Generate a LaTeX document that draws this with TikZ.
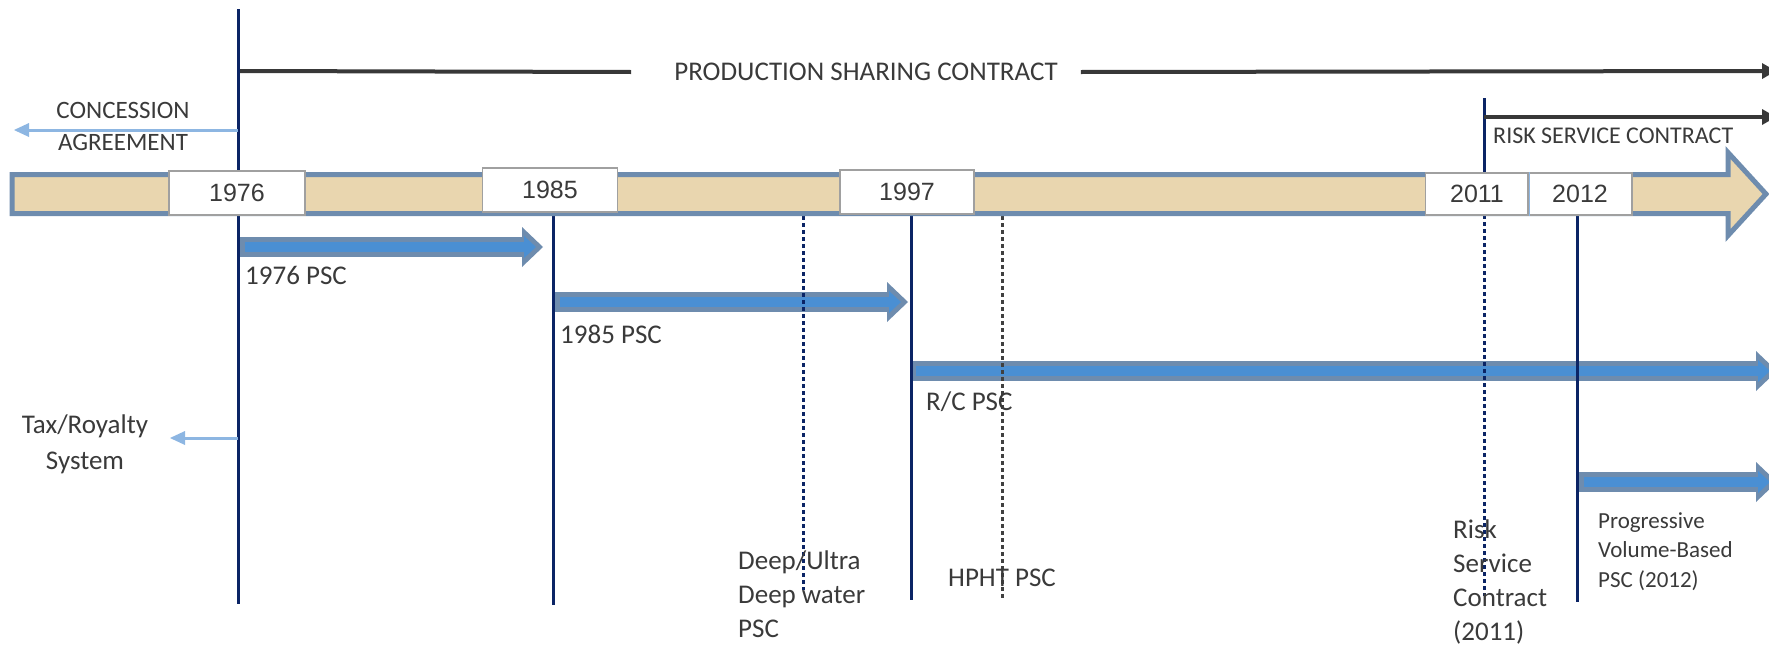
\documentclass[tikz,border=0pt]{standalone}
\usepackage{fontspec}
\setmainfont{Carlito}
\newfontfamily\yearfont{Liberation Sans}
\usepackage{tikz}
\usetikzlibrary{arrows.meta}
\definecolor{barfill}{HTML}{E9D6AF}
\definecolor{barline}{HTML}{6E8CAE}
\definecolor{pscblue}{HTML}{4A8FD3}
\definecolor{navyline}{HTML}{0B2465}
\definecolor{lightarrow}{HTML}{8DB6E2}
\definecolor{txtgray}{HTML}{3A3A3A}
\definecolor{boxgray}{HTML}{A0A0A0}

\begin{document}
\begin{tikzpicture}[x=1pt,y=-1pt,
		year_box/.style={rectangle,draw=boxgray,line width=1.2pt,fill=white,minimum height=44pt,inner sep=0pt,font=\yearfont\fontsize{25}{30}\selectfont,text=txtgray},
		label_text/.style={inner sep=0pt,align=left,text=txtgray,font=\fontsize{27}{34}\selectfont},
		era_line/.style={draw=black!78,line width=4pt},
		era_arrow/.style={era_line,-{Triangle[length=14pt,width=16pt,line width=0pt]}},
		back_arrow/.style={draw=lightarrow,line width=3pt,-{Triangle[length=15pt,width=14pt,line width=0pt]}},
		year_line/.style={draw=navyline,line width=3pt},
		dot_line/.style={draw=navyline,line width=3pt,dash pattern=on 4pt off 3pt},
		psc_outer/.style={draw=barline,line width=20pt,-{Triangle[length=21pt,width=40pt,line width=0pt]}},
		psc_inner/.style={draw=pscblue,line width=10pt,-{Triangle[length=12pt,width=22pt,line width=0pt]}}]

		\useasboundingbox (0,0) rectangle (1769,648);

		% contract arrows
		\coordinate (a76s) at (240,247);
		\coordinate (a76e) at (543,247);
		\coordinate (a85s) at (555,302);
		\coordinate (a85e) at (908,302);
		\coordinate (arcs) at (911,371);
		\coordinate (arce) at (1777,371);
		\coordinate (aprs) at (1579,482);
		\coordinate (apre) at (1777,482);

		\draw[psc_outer] (a76s) -- (a76e);
		\draw[psc_inner] ([xshift=5pt]a76s) -- ([xshift=-7pt]a76e);
		\draw[psc_outer] (a85s) -- (a85e);
		\draw[psc_inner] ([xshift=5pt]a85s) -- ([xshift=-7pt]a85e);
		\draw[psc_outer] (arcs) -- (arce);
		\draw[psc_inner] ([xshift=5pt]arcs) -- ([xshift=-7pt]arce);
		\draw[psc_outer] (aprs) -- (apre);
		\draw[psc_inner] ([xshift=5pt]aprs) -- ([xshift=-7pt]apre);

		% year lines
		\coordinate (t76) at (238,9);
		\coordinate (b76) at (238,604);
		\coordinate (t85) at (553,200);
		\coordinate (b85) at (553,605);
		\coordinate (t97) at (911,200);
		\coordinate (b97) at (911,600);
		\coordinate (t11) at (1484,98);
		\coordinate (m11) at (1484,180);
		\coordinate (b11) at (1484,596);
		\coordinate (t12) at (1577,200);
		\coordinate (b12) at (1577,602);
		\coordinate (tdw) at (803,216);
		\coordinate (bdw) at (803,590);
		\coordinate (thp) at (1002,216);
		\coordinate (bhp) at (1002,600);

		\draw[year_line] (t76) -- (b76);
		\draw[year_line] (t85) -- (b85);
		\draw[year_line] (t97) -- (b97);
		\draw[year_line] (t11) -- (m11);
		\draw[dot_line] (m11) -- (b11);
		\draw[year_line] (t12) -- (b12);
		\draw[dot_line] (tdw) -- (bdw);
		\draw[dot_line,draw=black!75] (thp) -- (bhp);

		% time bar
		\draw[fill=barfill,draw=barline,line width=5pt,line join=miter]
			(12,174.5) -- (1728,174.5) -- (1728,152.5) -- (1766,194) -- (1728,235.5) -- (1728,213.5) -- (12,213.5) -- cycle;

		\node[year_box,minimum width=136pt] (y1976) at (237,193) {1976};
		\node[year_box,minimum width=135pt] (y1985) at (550,190) {1985};
		\node[year_box,minimum width=134pt] (y1997) at (907,192) {1997};
		\node[year_box,minimum width=103pt,minimum height=42pt] (y2011) at (1477,194) {2011};
		\node[year_box,minimum width=104pt,minimum height=42pt] (y2012) at (1580,194) {2012};
		\draw[draw=lightarrow,line width=1.2pt] (y2011.north east) -- (y2011.south east);

		% regimes
		\coordinate (psc_start) at (240,71);
		\coordinate (psc_end) at (1776,71);
		\node[label_text] (psc) at (866,72) {PRODUCTION SHARING CONTRACT};
		\draw[era_line] (psc_start) -- ([xshift=-43pt]psc.west);
		\draw[era_arrow] ([xshift=23pt]psc.east) -- (psc_end);

		\coordinate (rsc_end) at (1776,117);
		\draw[era_arrow] (t11 |- rsc_end) -- (rsc_end);
		\node[label_text,font=\fontsize{24}{29}\selectfont,anchor=west] (rsc) at (1493,136) {RISK SERVICE CONTRACT};

		\node[label_text,align=center,font=\fontsize{25}{32}\selectfont] (conc) at (123,126) {CONCESSION\\AGREEMENT};
		\coordinate (conc_from) at (238,130);
		\coordinate (conc_to) at (14,130);
		\draw[back_arrow] (conc_from) -- (conc_to);

		\node[label_text,align=center,font=\fontsize{27}{36}\selectfont] (tax) at (85,444) {Tax/Royalty\\System};
		\coordinate (tax_from) at (238,438);
		\coordinate (tax_to) at (170,438);
		\draw[back_arrow] (tax_from) -- (tax_to);

		% labels
		\node[label_text,anchor=west] (l76) at (245,275) {1976 PSC};
		\node[label_text,anchor=west] (l85) at (560,334) {1985 PSC};
		\node[label_text,anchor=west] (lrc) at (926,402) {R/C PSC};
		\node[label_text,anchor=west] (lhp) at (948,578) {HPHT PSC};
		\node[label_text,anchor=north west] (ldw) at (738,551) {Deep/Ultra\\Deep water\\PSC};
		\node[label_text,anchor=north west] (lrk) at (1453,520) {Risk\\Service\\Contract\\(2011)};
		\node[label_text,anchor=north west,font=\fontsize{23}{29.5}\selectfont] (lpr) at (1598,512) {Progressive\\Volume-Based\\PSC (2012)};

\end{tikzpicture}
\end{document}
